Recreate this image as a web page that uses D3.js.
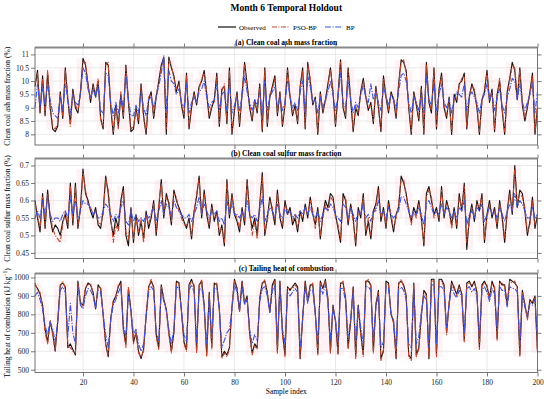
<!DOCTYPE html>
<html>
<head>
<meta charset="utf-8">
<script src="https://cdn.jsdelivr.net/npm/d3@7"></script>
<style>
body { margin: 0; background: #fff; }
text { font-family: "Liberation Serif", "Times New Roman", serif; }
</style>
</head>
<body>
<script>
let W = 550, H = 399

let sampleIndex = d3.range(1, 201)
let xTicks = [20, 40, 60, 80, 100, 120, 140, 160, 180, 200]

// (a) clean coal ash mass fraction (%)
let ashObs = [9.8,10.4,8.8,10.2,8.7,10.3,9.0,8.2,8.1,8.3,9.6,8.6,10.5,9.3,8.4,9.7,9.0,8.8,9.6,10.85,
10.6,9.9,9.2,9.9,9.4,10.0,8.6,8.2,10.7,10.6,9.0,8.0,9.1,8.3,9.5,8.6,10.6,9.2,8.1,8.2,
9.0,8.4,9.9,8.7,8.0,9.3,9.6,8.6,9.4,10.0,10.6,10.9,8.0,10.9,10.5,10.2,9.6,10.0,9.1,8.6,
10.3,8.2,9.0,9.6,9.1,9.8,10.0,10.4,9.5,8.6,9.0,9.3,10.3,8.3,9.7,9.8,8.4,10.5,8.0,8.9,
9.6,8.3,9.5,10.7,9.9,9.0,8.5,9.3,8.8,9.9,8.1,10.5,8.3,9.4,9.8,10.2,8.7,9.6,8.3,9.1,
10.5,9.4,8.7,9.1,8.4,9.8,10.5,8.2,10.7,10.0,9.1,9.4,8.0,9.6,8.8,9.3,9.9,10.5,9.6,8.3,
9.5,10.8,9.0,8.6,10.5,9.3,8.1,9.0,8.7,9.6,10.1,9.4,8.9,9.2,8.4,9.8,9.0,8.1,10.2,9.4,
8.8,9.6,9.3,8.6,9.9,10.8,10.7,10.4,9.0,8.0,9.6,9.1,8.5,9.8,8.0,10.7,9.2,8.8,10.5,8.2,
9.7,10.3,9.0,8.6,9.4,8.0,9.5,9.2,9.9,10.0,10.3,8.2,9.4,9.9,9.6,9.0,8.0,9.3,9.6,10.4,
9.2,9.7,8.1,9.5,10.0,8.9,8.0,9.6,10.1,10.7,10.4,9.3,10.5,9.1,8.5,9.0,9.6,10.3,8.0,9.0]
let ashPso = [9.9,10.3,8.9,10.1,8.8,10.4,9.1,8.3,8.2,8.4,9.5,8.7,10.4,9.4,8.3,9.6,9.1,8.9,9.5,10.7,
10.7,9.8,9.3,9.8,9.5,10.1,8.5,8.3,10.6,10.7,9.1,8.1,9.0,8.2,9.6,8.7,10.5,9.3,8.2,8.3,
8.9,8.5,9.8,8.6,8.1,9.4,9.5,8.7,9.5,9.9,10.5,10.8,8.2,10.8,10.6,10.1,9.7,9.9,9.2,8.7,
10.2,8.3,9.1,9.5,9.2,9.7,10.1,10.3,9.6,8.7,9.1,9.2,10.2,8.4,9.6,9.9,8.5,10.4,8.1,9.0,
9.5,8.4,9.6,10.6,9.8,9.1,8.6,9.2,8.9,9.8,8.2,10.4,8.4,9.5,9.7,10.1,8.8,9.5,8.4,9.2,
10.4,9.5,8.8,9.0,8.5,9.7,10.4,8.3,10.6,10.1,9.2,9.3,8.1,9.5,8.9,9.2,9.8,10.4,9.7,8.4,
9.4,10.7,9.1,8.7,10.4,9.4,8.2,9.1,8.8,9.5,10.0,9.5,9.0,9.1,8.5,9.7,9.1,8.2,10.1,9.5,
8.9,9.5,9.4,8.7,9.8,10.7,10.8,10.3,9.1,8.1,9.5,9.2,8.6,9.7,8.1,10.6,9.3,8.9,10.4,8.3,
9.6,10.2,9.1,8.7,9.3,8.1,9.4,9.3,9.8,10.1,10.2,8.3,9.5,9.8,9.7,9.1,8.1,9.2,9.7,10.3,
9.3,9.6,8.2,9.4,10.1,9.0,8.1,9.5,10.0,10.6,10.5,9.4,10.4,9.2,8.6,9.1,9.5,10.2,8.1,9.1]
let ashBp = [9.0,9.9,9.0,9.8,9.1,9.9,9.3,8.8,8.7,8.6,9.4,8.9,9.9,9.3,8.8,9.5,9.2,9.1,9.5,10.5,
10.3,9.7,9.4,9.7,9.4,9.8,8.9,8.8,10.3,10.2,9.2,8.7,9.2,8.8,9.4,9.0,10.2,9.3,8.7,8.7,
9.1,8.8,9.6,9.0,8.7,9.3,9.4,9.0,9.4,9.8,10.3,10.95,8.9,10.4,10.0,9.9,9.5,9.7,9.2,9.0,
9.9,8.8,9.2,9.4,9.2,9.6,9.7,10.0,9.4,9.0,9.2,9.3,9.9,8.9,9.5,9.6,8.9,10.0,8.8,9.1,
9.4,8.9,9.4,10.2,9.6,9.2,8.9,9.3,9.1,9.6,8.8,10.0,8.9,9.4,9.6,9.8,9.0,9.4,8.9,9.2,
10.0,9.4,9.0,9.2,8.9,9.6,10.0,8.8,10.2,9.8,9.2,9.3,8.8,9.4,9.0,9.3,9.6,10.0,9.5,8.9,
9.4,10.3,9.2,9.0,10.0,9.3,8.8,9.2,9.0,9.5,9.8,9.4,9.2,9.9,9.3,9.6,9.2,8.9,9.8,9.4,
9.1,9.5,9.3,9.0,9.6,10.2,10.3,10.0,9.2,8.8,9.4,9.2,8.9,9.5,8.8,10.2,9.3,9.1,9.9,8.9,
9.5,9.9,9.2,9.0,9.3,8.8,9.3,9.6,9.5,9.4,9.9,8.9,9.4,9.6,9.4,9.2,8.8,9.3,9.5,9.9,
9.3,9.5,8.9,9.4,9.7,9.1,8.8,9.4,9.7,10.1,10.0,9.3,9.9,9.2,8.9,9.2,9.5,9.9,8.8,9.6]

// (b) clean coal sulfur mass fraction (%)
let sulObs = [0.60,0.55,0.51,0.62,0.52,0.63,0.55,0.51,0.53,0.52,0.50,0.54,0.56,0.52,0.65,0.53,0.65,0.52,0.58,0.69,
0.62,0.60,0.57,0.55,0.58,0.53,0.52,0.57,0.67,0.62,0.54,0.50,0.55,0.52,0.60,0.64,0.50,0.47,0.58,0.48,
0.56,0.50,0.54,0.49,0.57,0.52,0.55,0.60,0.50,0.58,0.66,0.55,0.62,0.59,0.53,0.63,0.60,0.58,0.56,0.54,
0.52,0.55,0.49,0.57,0.61,0.67,0.55,0.63,0.56,0.52,0.59,0.54,0.57,0.50,0.53,0.47,0.66,0.55,0.62,0.56,
0.54,0.51,0.58,0.53,0.66,0.56,0.52,0.55,0.50,0.59,0.68,0.50,0.55,0.61,0.57,0.53,0.63,0.55,0.52,0.60,
0.56,0.58,0.53,0.55,0.51,0.57,0.54,0.59,0.55,0.61,0.56,0.53,0.58,0.49,0.56,0.60,0.58,0.62,0.61,0.56,
0.52,0.48,0.62,0.60,0.53,0.59,0.55,0.47,0.58,0.55,0.62,0.50,0.54,0.49,0.57,0.59,0.64,0.54,0.58,0.52,
0.60,0.55,0.51,0.56,0.58,0.67,0.65,0.62,0.57,0.54,0.58,0.56,0.60,0.55,0.47,0.62,0.64,0.60,0.56,0.58,
0.54,0.64,0.55,0.60,0.57,0.53,0.58,0.52,0.62,0.57,0.65,0.46,0.55,0.59,0.54,0.60,0.57,0.62,0.48,0.56,
0.60,0.55,0.58,0.52,0.60,0.55,0.48,0.57,0.63,0.56,0.70,0.58,0.63,0.62,0.57,0.50,0.54,0.61,0.52,0.56]
let sulPso = [0.59,0.56,0.52,0.61,0.53,0.62,0.56,0.52,0.50,0.49,0.48,0.53,0.57,0.53,0.64,0.54,0.64,0.53,0.57,0.68,
0.63,0.59,0.58,0.56,0.57,0.54,0.53,0.56,0.66,0.63,0.55,0.48,0.53,0.51,0.59,0.63,0.51,0.49,0.57,0.49,
0.55,0.51,0.55,0.48,0.56,0.53,0.56,0.59,0.51,0.59,0.65,0.56,0.61,0.60,0.54,0.62,0.61,0.57,0.55,0.53,
0.53,0.54,0.50,0.56,0.62,0.66,0.56,0.62,0.57,0.53,0.58,0.55,0.56,0.51,0.52,0.48,0.65,0.56,0.61,0.57,
0.55,0.52,0.57,0.54,0.65,0.57,0.50,0.54,0.49,0.58,0.67,0.51,0.54,0.60,0.58,0.54,0.62,0.56,0.53,0.59,
0.57,0.57,0.54,0.56,0.52,0.56,0.55,0.58,0.56,0.60,0.57,0.52,0.57,0.50,0.55,0.59,0.57,0.61,0.60,0.55,
0.53,0.49,0.61,0.61,0.54,0.58,0.54,0.48,0.57,0.56,0.61,0.51,0.55,0.50,0.56,0.58,0.63,0.55,0.57,0.53,
0.59,0.56,0.52,0.55,0.59,0.66,0.66,0.61,0.58,0.53,0.57,0.55,0.59,0.54,0.48,0.61,0.63,0.61,0.55,0.57,
0.55,0.63,0.56,0.59,0.58,0.52,0.57,0.53,0.61,0.58,0.64,0.48,0.54,0.58,0.55,0.59,0.58,0.61,0.49,0.55,
0.59,0.56,0.57,0.53,0.59,0.56,0.49,0.56,0.62,0.57,0.69,0.59,0.62,0.61,0.58,0.51,0.53,0.60,0.53,0.55]
let sulBp = [0.55,0.57,0.55,0.60,0.56,0.61,0.56,0.54,0.55,0.55,0.54,0.56,0.57,0.55,0.61,0.56,0.60,0.55,0.57,0.60,
0.59,0.59,0.58,0.56,0.57,0.55,0.55,0.57,0.59,0.58,0.56,0.54,0.56,0.55,0.58,0.60,0.54,0.53,0.57,0.54,
0.56,0.54,0.55,0.54,0.56,0.55,0.56,0.58,0.54,0.57,0.60,0.56,0.59,0.58,0.55,0.60,0.58,0.57,0.56,0.55,
0.55,0.56,0.54,0.56,0.58,0.61,0.56,0.59,0.57,0.55,0.57,0.56,0.57,0.54,0.55,0.53,0.60,0.56,0.59,0.56,
0.56,0.55,0.57,0.55,0.60,0.56,0.55,0.56,0.54,0.57,0.61,0.54,0.56,0.58,0.57,0.55,0.59,0.56,0.55,0.58,
0.56,0.57,0.55,0.56,0.55,0.57,0.56,0.58,0.56,0.58,0.56,0.55,0.57,0.54,0.56,0.58,0.57,0.59,0.58,0.56,
0.55,0.54,0.59,0.58,0.55,0.58,0.56,0.54,0.57,0.56,0.59,0.55,0.56,0.54,0.57,0.57,0.60,0.56,0.57,0.55,
0.58,0.56,0.55,0.56,0.57,0.61,0.61,0.59,0.57,0.55,0.57,0.56,0.58,0.56,0.53,0.59,0.60,0.58,0.56,0.57,
0.56,0.59,0.56,0.58,0.57,0.55,0.57,0.55,0.58,0.57,0.60,0.53,0.56,0.57,0.55,0.58,0.57,0.59,0.54,0.56,
0.58,0.56,0.57,0.55,0.58,0.56,0.54,0.57,0.59,0.57,0.62,0.58,0.60,0.59,0.57,0.55,0.55,0.58,0.55,0.56]

// (c) tailing heat of combustion (kJ/kg)
let heatObs = [960,940,910,850,720,650,760,700,600,760,960,970,950,620,640,610,580,980,860,850,
940,970,960,920,830,960,940,800,640,570,780,870,900,950,980,720,640,940,820,650,
700,600,560,610,790,950,980,950,690,620,960,880,830,700,600,700,980,970,820,650,
610,960,990,950,600,960,980,850,580,920,620,970,960,830,570,600,580,620,840,990,
940,820,980,860,900,700,590,640,620,890,970,980,920,810,960,990,600,980,700,580,
950,930,950,970,950,560,780,980,870,960,960,810,590,980,940,990,880,600,850,760,
590,970,970,890,620,760,950,570,850,700,580,980,980,960,600,850,930,560,600,980,
970,800,760,560,970,980,960,900,580,560,970,580,620,790,930,910,560,990,990,580,
990,990,960,700,860,980,940,910,960,910,660,970,980,950,980,920,620,960,980,950,
890,980,940,670,980,960,960,850,990,980,970,950,580,930,850,780,880,860,900,600]
let heatPso = [970,930,920,840,700,640,770,690,610,770,950,980,940,630,620,600,590,970,870,840,
950,960,970,910,840,950,950,790,630,580,770,880,890,960,970,710,620,950,810,640,
710,590,570,600,800,940,990,940,680,610,950,890,820,690,590,710,970,980,810,640,
600,950,980,960,590,950,990,840,570,910,610,960,970,820,560,590,570,610,850,980,
950,810,970,870,890,690,580,630,610,880,960,990,910,820,950,980,590,970,690,570,
940,940,940,960,940,570,770,970,880,950,970,800,580,970,950,980,890,590,840,770,
580,960,980,880,610,770,940,560,840,690,570,970,990,950,590,860,920,550,610,970,
960,810,750,570,960,990,950,910,570,550,960,570,610,800,920,900,570,980,980,570,
980,980,950,690,870,970,950,900,950,920,650,960,970,960,970,930,610,950,970,960,
880,970,950,660,970,970,950,860,980,970,980,940,570,920,860,770,870,870,890,590]
let heatBp = [900,920,880,830,740,690,760,720,650,760,930,950,920,680,860,700,640,950,850,830,
900,940,930,900,830,930,920,800,690,620,770,850,880,920,950,740,680,910,820,690,
720,640,600,640,780,920,950,930,700,660,930,870,820,720,640,720,950,940,820,690,
650,930,960,920,650,930,950,840,640,890,680,940,940,830,620,660,700,720,830,960,
920,820,950,850,880,720,640,690,660,870,940,950,900,810,930,960,650,950,720,640,
920,900,920,940,920,620,780,950,860,930,930,800,650,950,910,960,870,660,830,770,
650,940,940,870,680,770,920,640,840,730,640,950,950,930,660,840,900,620,650,950,
940,800,770,620,930,950,930,880,640,620,940,640,680,810,900,880,620,960,960,640,
950,950,930,730,850,950,910,890,930,890,700,940,950,920,940,900,680,930,950,920,
870,940,910,720,950,930,930,840,950,940,940,920,640,900,840,790,860,850,880,660]

let seriesNames = ["Observed", "PSO-BP", "BP"]
let colors = ["#111111", "#bf4a2e", "#3f55d6"]
let dashes = [null, "5,1.5,1,1.5", "6,1.5,1.2,1.5"]

let panels = [
    { title: "(a) Clean coal ash mass fraction", ylab: "Clean coal ash mass fraction (%)", sup: null,
      data: [ashObs, ashPso, ashBp], domain: [7.6, 11.26], ticks: [8, 8.5, 9, 9.5, 10, 10.5, 11],
      top: 47.5, bottom: 145 },
    { title: "(b) Clean coal sulfur mass fraction", ylab: "Clean coal sulfur mass fraction (%)", sup: null,
      data: [sulObs, sulPso, sulBp], domain: [0.434, 0.72], ticks: [0.45, 0.5, 0.55, 0.6, 0.65, 0.7],
      top: 158.5, bottom: 258.5 },
    { title: "(c) Tailing heat of combustion", ylab: "Tailing heat of combustion (kJ kg", sup: "\u22121",
      data: [heatObs, heatPso, heatBp], domain: [485, 1021.5], ticks: [500, 600, 700, 800, 900, 1000],
      top: 273.5, bottom: 372.5 }
]

let left = 35, right = 537.5

let svg = d3.select("body")
    .append("svg")
    .attr("width", W)
    .attr("height", H)

let x = d3.scaleLinear().domain([1, 200]).range([left, right])

// title + legend
svg.append("text")
    .attr("x", (left + right) / 2).attr("y", 11)
    .attr("text-anchor", "middle")
    .style("font-size", "9.5px").style("font-weight", "bold")
    .text("Month 6 Temporal Holdout")

let legendX = [218, 272, 325]
seriesNames.forEach((name, k) => {
    let g = svg.append("g").attr("transform", "translate(" + legendX[k] + ",27)")
    g.append("line").attr("x1", 0).attr("x2", 18).attr("y1", 0).attr("y2", 0)
        .attr("stroke", colors[k]).attr("stroke-width", 1.2)
        .attr("stroke-dasharray", dashes[k])
    g.append("text").attr("x", 21).attr("y", 2.5)
        .style("font-size", "7px").text(name)
})

panels.forEach((p, pi) => {
    let y = d3.scaleLinear().domain(p.domain).range([p.bottom, p.top])
    let g = svg.append("g")

    // faint band behind the lines, from the spread of the three series
    let band = sampleIndex.map((s, i) => {
        let vals = []
        for (let j = Math.max(0, i - 2); j <= Math.min(199, i + 2); j++)
            p.data.forEach(d => vals.push(d[j]))
        return { s: s, lo: d3.min(vals), hi: d3.max(vals) }
    })
    g.append("path")
        .datum(band)
        .attr("fill", "#fdecf0")
        .attr("opacity", 0.7)
        .attr("d", d3.area().curve(d3.curveStep).x(d => x(d.s)).y0(d => y(d.lo)).y1(d => y(d.hi)))

    // grid
    g.selectAll(".gx").data(xTicks.slice(0, -1)).enter().append("line")
        .attr("x1", d => x(d)).attr("x2", d => x(d))
        .attr("y1", p.top).attr("y2", p.bottom)
        .attr("stroke", "#dcdcdc").attr("stroke-width", 0.6)
    g.selectAll(".gy").data(p.ticks).enter().append("line")
        .attr("x1", left).attr("x2", right)
        .attr("y1", d => y(d)).attr("y2", d => y(d))
        .attr("stroke", "#dcdcdc").attr("stroke-width", 0.6)

    // lines
    p.data.forEach((d, k) => {
        g.append("path")
            .datum(d)
            .attr("fill", "none")
            .attr("stroke", colors[k])
            .attr("stroke-width", 1.1)
            .attr("stroke-dasharray", dashes[k])
            .attr("stroke-linejoin", "round")
            .attr("d", d3.line().x((v, i) => x(sampleIndex[i])).y(v => y(v)))
    })

    // axes
    let yl = g.append("g").attr("transform", "translate(" + left + ",0)")
        .call(d3.axisLeft(y).tickValues(p.ticks).tickSize(4).tickPadding(2).tickFormat(d3.format("~g")))
    let yr = g.append("g").attr("transform", "translate(" + right + ",0)")
        .call(d3.axisRight(y).tickValues(p.ticks).tickSize(4).tickFormat(""))
    let xt = g.append("g").attr("transform", "translate(0," + p.top + ")")
        .call(d3.axisTop(x).tickValues(xTicks).tickSize(4).tickFormat(""))
    let xb = g.append("g").attr("transform", "translate(0," + p.bottom + ")")
        .call(d3.axisBottom(x).tickValues(xTicks).tickSize(4).tickPadding(3)
            .tickFormat(pi == 2 ? d3.format("d") : ""))
    ;[yl, yr, xt, xb].forEach(a => {
        a.selectAll("path").remove()
        a.selectAll("line").attr("stroke", "#555").attr("stroke-width", 0.8)
        a.selectAll("text").attr("fill", "#222")
            .style("font-family", "Liberation Serif").style("font-size", "7.5px")
    })

    // box
    g.append("rect")
        .attr("x", left).attr("y", p.top)
        .attr("width", right - left).attr("height", p.bottom - p.top)
        .attr("fill", "none").attr("stroke", "#666").attr("stroke-width", 0.9)
    g.append("line")
        .attr("x1", left).attr("x2", right).attr("y1", p.top).attr("y2", p.top)
        .attr("stroke", "#888").attr("stroke-width", 2)

    // panel title
    g.append("text")
        .attr("x", (left + right) / 2).attr("y", p.top - 2.5)
        .attr("text-anchor", "middle")
        .style("font-size", "7.5px").style("font-weight", "bold")
        .text(p.title)

    // y label
    let ly = g.append("text")
        .attr("transform", "translate(10," + ((p.top + p.bottom) / 2) + ") rotate(-90)")
        .attr("text-anchor", "middle")
        .style("font-size", "7.5px")
        .text(p.ylab)
    if (p.sup) {
        ly.append("tspan").attr("dy", -3).style("font-size", "5.5px").text(p.sup)
        ly.append("tspan").attr("dy", 3).text(")")
    }
})

svg.append("text")
    .attr("x", (left + right) / 2).attr("y", 394)
    .attr("text-anchor", "middle")
    .style("font-size", "7.5px")
    .text("Sample index")
</script>
</body>
</html>
